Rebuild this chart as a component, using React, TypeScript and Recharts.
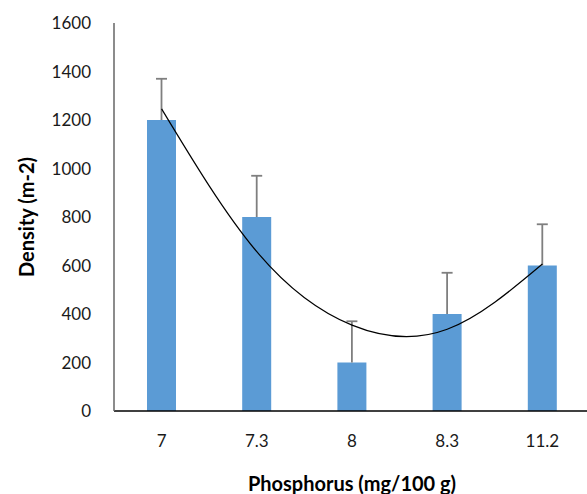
import React from "react";
import {
  ComposedChart,
  Bar,
  Line,
  XAxis,
  YAxis,
  Label,
} from "recharts";

const categories = ["7", "7.3", "8", "8.3", "11.2"];
const density = [1200, 800, 200, 400, 600];
const upperError = [170, 170, 170, 170, 170];
// polynomial trendline values read at each category
const trend = [1246, 657, 354, 337, 606];
const yTicks = [0, 200, 400, 600, 800, 1000, 1200, 1400, 1600];

const data = categories.map((c, i) => ({
  name: c,
  density: density[i],
  err: upperError[i],
  trend: trend[i],
}));

const font = "Lato, 'Open Sans', sans-serif";

// bar with an upward-only error bar, scaled from the bar's own pixel height
const BarWithError = (props: any) => {
  const { x, y, width, height, payload } = props;
  const errPx = payload.density ? (payload.err * height) / payload.density : 0;
  const cx = x + width / 2;
  const top = y - errPx;
  return (
    <g>
      <rect x={x} y={y} width={width} height={height} fill="#5B9BD5" />
      <line x1={cx} y1={y} x2={cx} y2={top} stroke="#7f7f7f" strokeWidth={1.8} />
      <line x1={cx - 5.5} y1={top} x2={cx + 5.5} y2={top} stroke="#7f7f7f" strokeWidth={1.8} />
    </g>
  );
};

const App: React.FC = () => {
  return (
    <div
      style={{
        position: "absolute",
        left: 0,
        top: 0,
        width: 587,
        height: 494,
        overflow: "hidden",
      }}
    >
      <ComposedChart
        width={590}
        height={494}
        data={data}
        margin={{ top: 23, right: 0, bottom: 0, left: 0 }}
        style={{ overflow: "visible" }}
      >
        <XAxis
          dataKey="name"
          height={83}
          axisLine={{ stroke: "#000", strokeWidth: 1.5 }}
          tickLine={false}
          tick={{ fill: "#1a1a1a", fontSize: 17, fontFamily: font }}
          tickMargin={18}
        >
          <Label
            value="Phosphorus (mg/100 g)"
            position="insideBottom"
            offset={3}
            style={{ fill: "#000", fontSize: 20, fontWeight: 700, fontFamily: font }}
          />
        </XAxis>
        <YAxis
          width={114}
          domain={[0, 1600]}
          ticks={yTicks}
          interval={0}
          axisLine={{ stroke: "#666", strokeWidth: 1.5 }}
          tickLine={false}
          tick={{ fill: "#1a1a1a", fontSize: 17, fontFamily: font }}
          tickMargin={17}
        >
          <Label
            value="Density (m-2)"
            angle={-90}
            position="insideLeft"
            offset={27}
            style={{ fill: "#000", fontSize: 20, fontWeight: 700, fontFamily: font, textAnchor: "middle" }}
          />
        </YAxis>
        <Bar
          dataKey="density"
          fill="#5B9BD5"
          barSize={29}
          shape={BarWithError}
          isAnimationActive={false}
        />
        <Line
          dataKey="trend"
          type="natural"
          stroke="#000"
          strokeWidth={1.2}
          dot={false}
          activeDot={false}
          isAnimationActive={false}
        />
      </ComposedChart>
    </div>
  );
};

export default App;
